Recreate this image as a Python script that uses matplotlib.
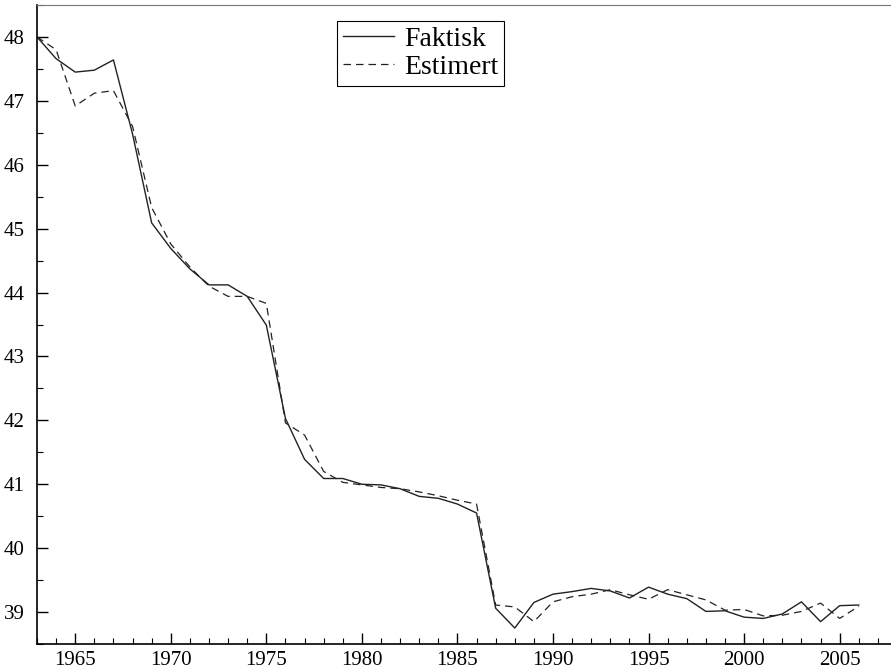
import matplotlib
matplotlib.use("Agg")
import matplotlib.pyplot as plt
from matplotlib.ticker import MultipleLocator

years = list(range(1963, 2007))
faktisk = [48.0, 47.66, 47.45, 47.48, 47.64, 46.48, 45.09, 44.69, 44.37, 44.12,
           44.12, 43.94, 43.49, 42.03, 41.39, 41.09, 41.09, 41.0, 40.99, 40.93,
           40.81, 40.78, 40.69, 40.55, 39.06, 38.75, 39.15, 39.28, 39.32, 39.37,
           39.33, 39.22, 39.39, 39.28, 39.21, 39.01, 39.02, 38.92, 38.9, 38.97,
           39.16, 38.85, 39.1, 39.11]
estimert = [48.0, 47.8, 46.92, 47.12, 47.16, 46.6, 45.33, 44.76, 44.4, 44.1,
            43.94, 43.94, 43.83, 41.96, 41.77, 41.2, 41.03, 40.99, 40.95, 40.93,
            40.88, 40.82, 40.75, 40.69, 39.11, 39.08, 38.85, 39.16, 39.24, 39.28,
            39.35, 39.27, 39.2, 39.35, 39.27, 39.19, 39.03, 39.04, 38.94, 38.95,
            39.01, 39.14, 38.9, 39.09]

plt.rcParams['font.family'] = ['Liberation Serif', 'DejaVu Serif']

fig = plt.figure(figsize=(8.91, 6.71), dpi=100)
ax = fig.add_axes([37/891, 27/671, 860/891, 639/671])

ax.plot(years, faktisk, color='#222222', lw=1.0, label='Faktisk')
ax.plot(years, estimert, color='#222222', lw=0.9, ls=(0, (6, 4)), label='Estimert')

ax.set_xlim(1963, 2008)
ax.set_ylim(38.5, 48.5)
ax.xaxis.set_major_locator(MultipleLocator(5))
ax.xaxis.set_minor_locator(MultipleLocator(1))
ax.yaxis.set_major_locator(MultipleLocator(1))
ax.yaxis.set_minor_locator(MultipleLocator(0.5))
ax.tick_params(axis='both', which='major', direction='in', length=8, width=1, labelsize=15)
ax.tick_params(axis='both', which='minor', direction='in', length=4, width=0.8)
ax.tick_params(axis='x', pad=5)
ax.tick_params(axis='y', pad=9)
for s in ['left', 'bottom']:
    ax.spines[s].set_linewidth(1.2)
ax.spines['top'].set_color('#777777')
ax.spines['right'].set_visible(False)

leg = ax.legend(loc='upper left', bbox_to_anchor=(0.349, 0.975), fontsize=20,
                frameon=True, fancybox=False, edgecolor='black', framealpha=1,
                handlelength=1.85, borderpad=0.2, labelspacing=0.1, handletextpad=0.38,
                borderaxespad=0)
leg.get_frame().set_linewidth(0.8)

fig.savefig('out.png', dpi=100)
